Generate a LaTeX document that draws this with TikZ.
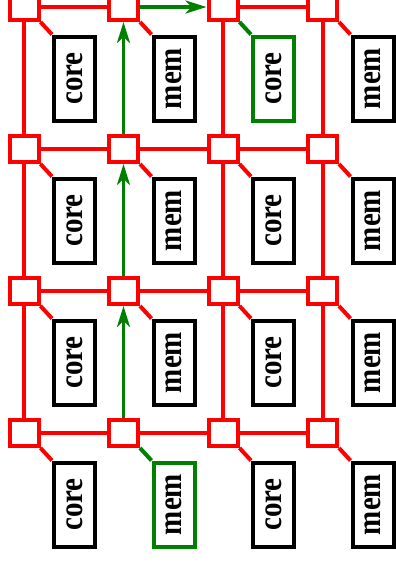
\documentclass[tikz,border=0pt]{standalone}
\usepackage{fontspec}
\setmainfont{Liberation Serif}
\usepackage{graphicx}
\usetikzlibrary{arrows.meta, positioning, calc}

\begin{document}
\begin{tikzpicture}[x=1pt, y=-1pt,
        >={Stealth[length=21pt, width=13pt, inset=6pt]},
        router/.style={draw=red, line width=4pt, fill=white, inner sep=0pt, minimum width=29pt, minimum height=26pt},
        pe-plain/.style={draw=black, line width=4pt, inner sep=0pt, minimum width=41pt, minimum height=84pt, font=\fontsize{29}{30}\selectfont\bfseries},
        pe-sel/.style={pe-plain, draw=green!50!black},
        tie-plain/.style={draw=red, line width=4pt},
        tie-sel/.style={draw=green!50!black, line width=4pt},
        link/.style={draw=red, line width=4pt},
        flow/.style={->, draw=green!50!black, line width=3.5pt},
    ]
    \useasboundingbox (0,0) rectangle (396,562);
    % Routers and tiles
    \foreach \r in {1,...,4}{
        \foreach \c/\lab in {1/core,2/mem,3/core,4/mem}{
            \ifnum\c\r=24 \def\sel{sel}\else\ifnum\c\r=31 \def\sel{sel}\else\def\sel{plain}\fi\fi
            \node[router] (r\c\r) at ({24+99.5*(\c-1)}, {7+142*(\r-1)}) {};
            \node[pe-\sel] (pe\c\r) at ($(r\c\r)+(50.5,71.5)$) {\rotatebox{90}{\scalebox{1}[1.15]{\lab}}};
            \draw[tie-\sel] (r\c\r.south east) -- (pe\c\r.north west);
        }
    }
    % Mesh links
    \draw[link] (r11) -- (r21);
    \draw[link] (r31) -- (r41);
    \foreach \r in {2,3,4}{
        \foreach \c/\n in {1/2,2/3,3/4}
            \draw[link] (r\c\r) -- (r\n\r);
    }
    \foreach \c in {1,3,4}{
        \foreach \r/\n in {1/2,2/3,3/4}
            \draw[link] (r\c\r) -- (r\c\n);
    }
    % Green path
    \draw[flow] (r24) -- (r23);
    \draw[flow] (r23) -- (r22);
    \draw[flow] (r22) -- (r21);
    \draw[flow] (r21) -- (r31);
\end{tikzpicture}
\end{document}
